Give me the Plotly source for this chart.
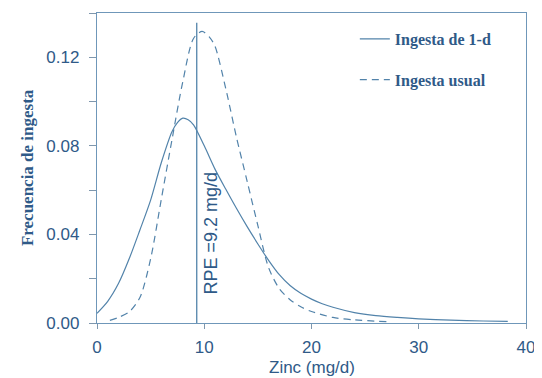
import plotly.graph_objects as go

# Data
x_1d = [0, 1, 2, 3, 4, 5, 6, 7, 7.5, 8, 8.5, 9, 10, 11, 12, 13, 14, 15, 16, 17, 18, 19, 20, 21, 22, 24, 26, 28,
        30, 33, 36, 38.3]
y_1d = [0.0044, 0.0098, 0.0178, 0.029, 0.042, 0.0555, 0.0725, 0.0865, 0.0905, 0.0925, 0.0918, 0.0895, 0.080,
        0.0695, 0.0605, 0.0518, 0.0435, 0.0357, 0.0283, 0.0218, 0.0169, 0.0134, 0.0108, 0.0087, 0.0071, 0.0047,
        0.0033, 0.0025, 0.0019, 0.0013, 0.0009, 0.0007]

x_usual = [1.2, 2, 3, 4, 5, 6, 7, 8, 9, 9.8, 10.5, 11, 12, 13, 14, 15, 16, 17, 18, 19, 20, 22, 24, 27]
y_usual = [0.0012, 0.0025, 0.0050, 0.0115, 0.029, 0.056, 0.083, 0.109, 0.1285, 0.1317, 0.129, 0.125, 0.106,
           0.084, 0.064, 0.044, 0.025, 0.0155, 0.0105, 0.0073, 0.0052, 0.0025, 0.0014, 0.0006]

rpe_value = 9.3
rpe_top = 0.1356
rpe_label = "RPE =9.2 mg/d"
series_names = ["Ingesta de 1-d", "Ingesta usual"]
x_ticks = [0, 10, 20, 30, 40]
y_ticks = [0, 0.02, 0.04, 0.06, 0.08, 0.10, 0.12, 0.14]
y_ticktext = ["0.00", "", "0.04", "", "0.08", "", "0.12", ""]

LINE = "#5283aa"
TEXT = "#2f5a88"
FRAME = "#6f97b9"
TICK = "#7f97ad"

fig = go.Figure()
fig.add_trace(go.Scatter(x=x_1d, y=y_1d, mode="lines", name=series_names[0],
                         line=dict(color=LINE, width=1.2, shape="spline", smoothing=0.8),
                         legendgroup="a"))
fig.add_trace(go.Scatter(x=x_usual, y=y_usual, mode="lines", name=series_names[1],
                         line=dict(color=LINE, width=1.2, dash="7px,5px", shape="spline", smoothing=0.8),
                         legendgroup="b"))
# RPE vertical line
fig.add_trace(go.Scatter(x=[rpe_value, rpe_value], y=[0, rpe_top], mode="lines",
                         line=dict(color=LINE, width=1.3), showlegend=False, hoverinfo="skip"))

fig.add_annotation(x=10.65, y=0.0405, xref="x", yref="y", text=rpe_label, textangle=-90,
                   showarrow=False, font=dict(family="Liberation Sans, Arial", size=18, color=TEXT),
                   xanchor="center", yanchor="middle")

fig.add_annotation(x=0.5, y=-0.145, xref="paper", yref="paper", text="Zinc (mg/d)", showarrow=False,
                   font=dict(family="Liberation Sans, Arial", size=17, color=TEXT),
                   xanchor="center", yanchor="middle")
fig.add_annotation(x=-0.163, y=0.5, xref="paper", yref="paper", text="<b>Frecuencia de ingesta</b>",
                   textangle=-90, showarrow=False,
                   font=dict(family="Liberation Serif, Times New Roman", size=17, color=TEXT),
                   xanchor="center", yanchor="middle")

# page body has an 8px margin, so the figure is 8px smaller and margins shifted
fig.update_layout(
    width=534, height=370,
    margin=dict(l=89, r=16, t=5, b=55),
    paper_bgcolor="white", plot_bgcolor="white",
    showlegend=True,
    legend=dict(x=0.601, y=0.971, xanchor="left", yanchor="top", bgcolor="rgba(0,0,0,0)",
                font=dict(family="Liberation Serif, Times New Roman", size=16, color=TEXT, weight="bold"),
                tracegroupgap=17, itemwidth=30),
    xaxis=dict(range=[0, 40], tickvals=x_ticks, ticks="outside", ticklen=5, tickcolor=TICK,
               showgrid=False, zeroline=False, showline=True, linecolor=FRAME, linewidth=1.3, mirror=True,
               ticklabelstandoff=3,
               tickfont=dict(family="Liberation Sans, Arial", size=17, color=TEXT)),
    yaxis=dict(range=[0, 0.14], tickvals=y_ticks, ticktext=y_ticktext, ticks="outside", ticklen=7,
               tickcolor=TICK, showgrid=False, zeroline=False, showline=True, linecolor=FRAME,
               linewidth=1.3, mirror=True, ticklabelstandoff=6,
               tickfont=dict(family="Liberation Sans, Arial", size=17, color=TEXT)),
)

fig.write_html("out.html")
